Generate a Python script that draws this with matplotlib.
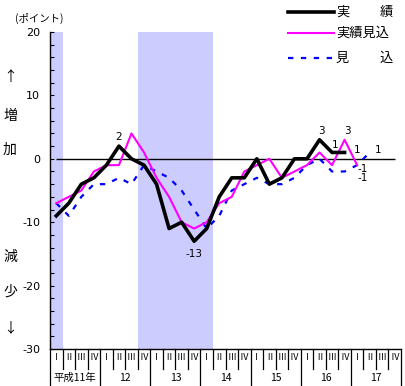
import matplotlib
matplotlib.use("Agg")
import matplotlib.pyplot as plt
import numpy as np
from matplotlib.lines import Line2D

plt.rcParams['font.family'] = ['Noto Sans CJK JP', 'DejaVu Sans']

# データ
years = ["平成11年", "12", "13", "14", "15", "16", "17"]
quarters = ["Ⅰ", "Ⅱ", "Ⅲ", "Ⅳ"]
jisseki = [-9, -7, -4, -3, -1, 2, 0, -1, -4, -11, -10, -13, -11, -6, -3, -3,
           0, -4, -3, 0, 0, 3, 1, 1]
jisseki_mikomi = [-7, -6, -5, -2, -1, -1, 4, 1, -3, -6, -10, -11, -10, -7, -6, -2,
                  -1, 0, -3, -2, -1, 1, -1, 3, -1]
mikomi = [-7, -9, -6, -4, -4, -3, -4, -1, -2, -3, -5, -8, -11, -9, -5, -4,
          -3, -4, -4, -3, -1, 0, -2, -2, -1, 1]
# 景気後退期 (四半期インデックス, 両端含む)
shaded = [(0, 0), (7, 12)]
# ラベル: (系列, インデックス, 文字, x,y オフセット px)
labels = [
    ("j", 5, "2", 0, 9),
    ("j", 11, "-13", 0, -13),
    ("j", 21, "3", 2, 9),
    ("j", 22, "1", 3, 7),
    ("m", 23, "3", 3, 9),
    ("j", 23, "1", 13, 2),
    ("m", 24, "-1", 6, -4),
    ("b", 24, "-1", 6, -13),
    ("b", 25, "1", 8, 2),
]

n_q = len(years) * len(quarters)
W, H = 405, 386
fig = plt.figure(figsize=(W / 100, H / 100), dpi=100)
ax = fig.add_axes([50 / W, (H - 349) / H, 351 / W, 317 / H])

for a, b in shaded:
    ax.axvspan(a, b + 1, color="#ccccff", lw=0, zorder=0)

xs_j = np.arange(len(jisseki)) + 0.5
xs_m = np.arange(len(jisseki_mikomi)) + 0.5
xs_b = np.arange(len(mikomi)) + 0.5

ax.hlines(0, 0.5, n_q - 0.5, color="black", lw=1.0, zorder=1)
ax.plot(xs_b, mikomi, color="#0000ff", lw=1.6, dashes=(2.4, 3.4), zorder=2)
ax.plot(xs_m, jisseki_mikomi, color="#ff00ff", lw=1.5, zorder=3)
ax.plot(xs_j, jisseki, color="black", lw=2.6, zorder=4)

series = {"j": (xs_j, jisseki), "m": (xs_m, jisseki_mikomi), "b": (xs_b, mikomi)}
for key, i, s, dx, dy in labels:
    xx, yy = series[key]
    ax.annotate(s, (xx[i], yy[i]), xytext=(dx, dy), textcoords="offset pixels",
                ha="center", va="center", fontsize=7.5, family="DejaVu Sans")

ax.set_xlim(0, n_q)
ax.set_ylim(-30, 20)
for sp in ["top", "right"]:
    ax.spines[sp].set_visible(False)
ax.spines["left"].set_linewidth(1.0)
ax.spines["bottom"].set_linewidth(1.0)

ax.set_yticks(np.arange(-30, 21, 10))
ax.set_yticklabels([str(v) for v in range(-30, 21, 10)],
                   fontsize=8, family="DejaVu Sans")
ax.set_yticks(np.arange(-30, 21, 2), minor=True)
ax.tick_params(axis="y", which="both", direction="in", length=3, width=0.8, pad=7)
ax.set_xticks([])

# 横軸: 四半期と年
tr = ax.get_xaxis_transform()
q_row = -20 / 317
for k in range(n_q):
    ax.text(k + 0.5, -9 / 317, quarters[k % 4], transform=tr, ha="center",
            va="center", fontsize=6.5)
for k in range(n_q + 1):
    low = -37 / 317 if k % 4 == 0 else q_row
    ax.plot([k, k], [0, low], transform=tr, color="black", lw=0.9, clip_on=False)
for j, y in enumerate(years):
    ax.text(j * 4 + 2, -29 / 317, y, transform=tr, ha="center", va="center",
            fontsize=7.5)

# 左側の文字
for ch, py in [("↑", 77), ("増", 116), ("加", 150), ("減", 257), ("少", 292), ("↓", 328)]:
    fig.text(10 / W, 1 - py / H, ch, ha="center", va="center", fontsize=10)
fig.text(39 / W, 1 - 18 / H, "(ポイント)", ha="center", va="center", fontsize=7.5)

# 凡例
leg = [("black", 2.6, None, 12, "実", "績"),
       ("#ff00ff", 1.5, None, 33, "実績見込", None),
       ("#0000ff", 1.6, (2.4, 3.4), 58, "見", "込")]
for col, lw, ds, py, left_txt, right_txt in leg:
    ln = Line2D([288 / W, 334 / W], [1 - py / H] * 2, color=col, lw=lw,
                transform=fig.transFigure)
    if ds:
        ln.set_dashes(ds)
    fig.add_artist(ln)
    fig.text(336 / W, 1 - py / H, left_txt, ha="left", va="center", fontsize=9.5)
    if right_txt:
        fig.text(393 / W, 1 - py / H, right_txt, ha="right", va="center", fontsize=9.5)

fig.savefig("out.png", dpi=100)
